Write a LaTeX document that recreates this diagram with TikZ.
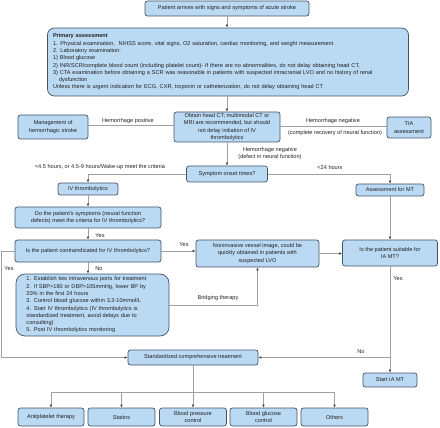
\documentclass[tikz,border=0pt]{standalone}
\usepackage{fontspec}
\setmainfont{Liberation Sans}
\usetikzlibrary{arrows.meta}
\definecolor{boxfill}{HTML}{BAD9F3}
\definecolor{boxdraw}{HTML}{44546A}
\definecolor{linegray}{HTML}{A0A0A0}
\definecolor{txt}{HTML}{222222}
\begin{document}
\begin{tikzpicture}[x=1pt,y=-1pt,
  box/.style={draw=boxdraw, fill=boxfill, rounded corners=2.5pt, line width=0.7pt,
    inner sep=1pt, align=center, text=txt, font=\fontsize{5.6}{7.3}\selectfont},
  conn/.style={draw=linegray, line width=0.7pt},
  arr/.style={conn, -{Latex[length=3pt,width=2.6pt,color=black!75]}},
  lbl/.style={inner sep=0pt, text=txt, font=\fontsize{5.6}{7.3}\selectfont}]
\useasboundingbox (0,0) rectangle (440,428);

% boxes
\node[box, minimum width=164pt, minimum height=15pt] (start) at (227,8.5)
  {Patient arrives with signs and symptoms of acute stroke};
\node[box, rounded corners=7pt, minimum width=361pt, minimum height=68pt, align=left, text width=350pt] (primary) at (228,62)
  {\textbf{Primary assessment}\\
   1. Physical examination,\ \ NIHSS score, vital signs, O2 saturation, cardiac monitoring, and weight measurement\\
   2. Laboratory examination:\\
   1) Blood glucose\\
   2) INR/SCR/complete blood count (including platelet count)- If there are no abnormalities, do not delay obtaining head CT,\\
   3) CTA examination before obtaining a SCR was reasonable in patients with suspected intracranial LVO and no history of renal\\
   \hspace*{6pt}dysfunction\\
   Unless there is urgent indication for ECG, CXR, troponin or catheterization, do not delay obtaining head CT};
\node[box, minimum width=106pt, minimum height=30pt] (headct) at (227,127)
  {Obtain head CT; multimodal CT or\\MRI are recommended, but should\\not delay initiation of IV\\thrombolytics};
\node[box, minimum width=70pt, minimum height=24pt] (mgmt) at (53,127)
  {Management of\\hemorrhagic stroke};
\node[box, minimum width=44pt, minimum height=21pt] (tia) at (409,127.5)
  {TIA\\assessment};
\node[box, minimum width=81pt, minimum height=16pt] (symptom) at (227,174)
  {Symptom onset times?};
\node[box, minimum width=60pt, minimum height=12pt] (ivt) at (88,189)
  {IV thrombolytics};
\node[box, minimum width=68pt, minimum height=12pt] (assess) at (390,190)
  {Assessment for MT};
\node[box, minimum width=146pt, minimum height=21pt] (criteria) at (88,217.5)
  {Do the patient's symptoms (neural function\\defects) meet the criteria for IV thrombolytics?};
\node[box, minimum width=146pt, minimum height=22pt] (contra) at (88,251)
  {Is the patient contraindicated for IV thrombolytics?};
\node[box, minimum width=123pt, minimum height=27pt] (noninv) at (257.5,253.5)
  {Noninvasive vessel image, could be\\quickly obtained in patients with\\suspected LVO};
\node[box, minimum width=95pt, minimum height=26pt] (suitable) at (390,253)
  {Is the patient suitable for\\IA MT?};
\node[box, rounded corners=9pt, minimum width=153pt, minimum height=62pt, align=left, text width=132pt] (list) at (92.5,305)
  {1. Establish two intravenous ports for treatment\\
   2. If SBP>180 or DBP>105mmHg, lower BP by\\
   20\% in the first 24 hours\\
   3. Control blood glucose within 3.3-10mmol/L\\
   4. Start IV thrombolytics (IV thrombolytics is\\
   standardized treatment, avoid delays due to\\
   consulting)\\
   5. Post IV thrombolytics monitoring};
\node[box, minimum width=130pt, minimum height=15pt] (std) at (193,357.5)
  {Standardized comprehensive treatment};
\node[box, minimum width=54pt, minimum height=14pt] (startia) at (390,380)
  {Start IA MT};
\node[box, minimum width=66pt, minimum height=18pt] (b1) at (51,417) {Antiplatelet therapy};
\node[box, minimum width=67pt, minimum height=18pt] (b2) at (121.5,417) {Statins};
\node[box, minimum width=67pt, minimum height=18pt] (b3) at (193,417) {Blood pressure\\control};
\node[box, minimum width=67pt, minimum height=18pt] (b4) at (263.5,417) {Blood glucose\\control};
\node[box, minimum width=67pt, minimum height=18pt] (b5) at (334.5,417) {Others};

% labels
\node[lbl] (l1) at (128,121) {Hemorrhage positive};
\node[lbl] (l2) at (333,121.5) {Hemorrhage negative};
\node[lbl] (l3) at (335,133) {(complete recovery of neural function)};
\node[lbl] (l4) at (270,150) {Hemorrhage negative};
\node[lbl] (l5) at (270,157) {(defect in neural function)};
\node[lbl] (l6) at (100,167) {<4.5 hours, or 4.5-9 hours/Wake-up meet the criteria};
\node[lbl] (l7) at (330,167) {<24 hours};
\node[lbl] (l8) at (100,236) {Yes};
\node[lbl] (l9) at (184,245) {Yes};
\node[lbl] (l10) at (99,269) {No};
\node[lbl] (l11) at (9,269) {Yes};
\node[lbl] (l12) at (218,298) {Bridging therapy};
\node[lbl] (l13) at (398,279) {Yes};
\node[lbl] (l14) at (361,352) {No};

% connectors
\draw[arr] (start.south) -- (start.south |- primary.north);
\draw[arr] (start.south |- primary.south) -- (start.south |- headct.north);
\draw[conn] ([yshift=1.5pt]mgmt.east) -- ([yshift=1.5pt]mgmt.east -| headct.west);
\draw[conn] ([yshift=1.5pt]headct.east |- tia.west) -- ([yshift=1.5pt]tia.west);
\draw[arr] (headct.south) -- (symptom.north);
\draw[arr] (symptom.west) -| (ivt.north);
\draw[arr] (symptom.east) -| (assess.north);
\draw[arr] (ivt.south) -- (criteria.north);
\draw[arr] (criteria.south) -- (contra.north);
\draw[arr] (contra.east) -- (contra.east -| noninv.west);
\draw[arr] (noninv.east) -- (noninv.east -| suitable.west);
\draw[arr] (assess.south) -- (assess.south |- suitable.north);
\draw[arr] (contra.south) -- (contra.south |- list.north);
\draw[arr] (list.east) -| (noninv.south);
\coordinate (yesleft) at (1,251);
\draw[arr] (contra.west) -- (yesleft) |- (std.west);
\draw[arr] (suitable.south) -- (suitable.south |- startia.north);
\coordinate (nobr) at (suitable.south |- std.east);
\draw[arr] (nobr) -- (std.east);
\coordinate (bus) at (193,392);
\draw[conn] (std.south) -- (bus);
\draw[arr] (bus) -| (b1.north);
\draw[arr] (bus) -| (b2.north);
\draw[arr] (bus) -- (b3.north);
\draw[arr] (bus) -| (b4.north);
\draw[arr] (bus) -| (b5.north);
\end{tikzpicture}
\end{document}
